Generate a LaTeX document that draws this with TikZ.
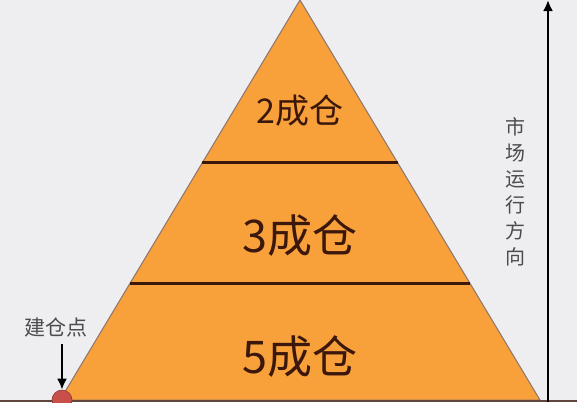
\documentclass[tikz,border=0pt]{standalone}
\usepackage{fontspec}
\newfontfamily\cjk{Noto Sans CJK SC}
\usetikzlibrary{calc,arrows.meta}
\definecolor{pyr}{HTML}{F8A13A}
\definecolor{bg}{HTML}{EEEEF1}
\definecolor{ink}{HTML}{3B170C}
\definecolor{dot}{HTML}{C9504A}
\def\cang#1#2#3{
	\node[font=\cjk\fontsize{#3}{#3}\selectfont,text=ink] (c#1) at (300,#2) {#1成仓};
}
\def\cut#1#2{
	\coordinate (#1a) at ($(top)!#2/400!(bl)$);
	\coordinate (#1b) at ($(top)!#2/400!(br)$);
	\draw[ink,line width=3pt] (#1a) -- (#1b);
}

\begin{document}
\begin{tikzpicture}[x=1pt,y=-1pt,>={Latex[length=11pt,width=10pt]},thick]
\fill[bg] (0,0) rectangle (577,402);
\useasboundingbox (0,0) rectangle (577,402);

\coordinate (top) at (300,0);
\coordinate (bl) at (60,400);
\coordinate (br) at (540,400);
\fill[pyr,draw=ink!60,line width=1pt] (top) -- (br) -- (bl) -- cycle;
\cut{ca}{163} \cut{cb}{283}

\cang{2}{111}{34} \cang{3}{236}{45} \cang{5}{357}{45}

% bottom edge
\draw[ink!80,line width=2pt] (0,401) -- (577,401);

% entry point
\node[circle,fill=dot,draw=dot!70!black,line width=0.6pt,minimum size=20pt,inner sep=0pt] (pt) at (62,400) {};
\node[font=\cjk\fontsize{21}{21}\selectfont,text=black!70] (entry) at (56,328) {建仓点};
\coordinate (ea) at ([yshift=-3pt]entry.south -| pt);
\draw[->,line width=2.4pt] (ea) -- (pt.north);

% market direction
\coordinate (mlo) at (548,402);
\coordinate (mhi) at (548,0);
\draw[->,line width=2.4pt] (mlo) -- (mhi);
\node[font=\cjk\fontsize{20}{26}\selectfont,text=black!70,align=center] (dir) at (515,192) {市\\场\\运\\行\\方\\向};
\end{tikzpicture}
\end{document}
